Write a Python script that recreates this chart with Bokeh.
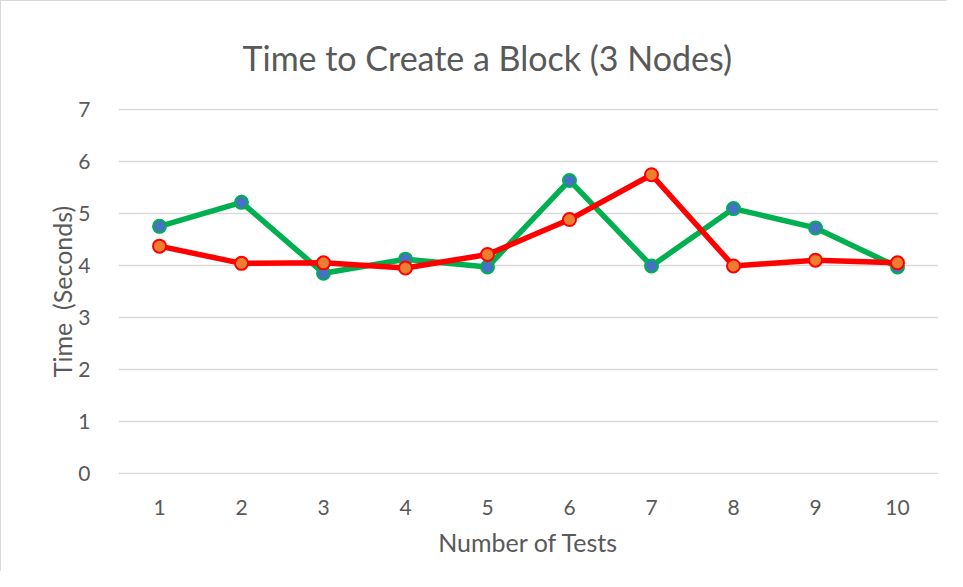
from bokeh.plotting import figure
from bokeh.models import Range1d, FixedTicker, ColumnDataSource
from bokeh.embed import file_html
from bokeh.resources import INLINE

tests = [1, 2, 3, 4, 5, 6, 7, 8, 9, 10]
series_green = [4.75, 5.21, 3.85, 4.12, 3.97, 5.63, 3.99, 5.09, 4.72, 3.97]
series_red = [4.37, 4.04, 4.05, 3.95, 4.21, 4.88, 5.74, 3.99, 4.10, 4.05]
y_ticks = [0, 1, 2, 3, 4, 5, 6, 7]

FONT = "Lato"
TXT = "#595959"

p = figure(width=947, height=571, output_backend="svg", toolbar_location=None,
           x_range=Range1d(0.5, 10.5), y_range=Range1d(-0.01, 7.01),
           min_border_left=117, min_border_right=10, min_border_top=107, min_border_bottom=98,
           title="Time to Create a Block (3 Nodes)")
p.styles = {"border-top": "1px solid #d9d9d9", "border-left": "1px solid #d9d9d9"}

p.title.text_font = FONT
p.title.text_font_size = "34px"
p.title.text_font_style = "normal"
p.title.text_color = TXT
p.title.align = "left"
p.title.offset = 124
p.title.standoff = 61

p.outline_line_color = None
p.xgrid.grid_line_color = None
p.ygrid.grid_line_color = "#d9d9d9"
p.ygrid.grid_line_width = 1.5
p.yaxis.ticker = FixedTicker(ticks=y_ticks)
p.xaxis.ticker = FixedTicker(ticks=tests)

for ax in (p.xaxis[0], p.yaxis[0]):
    ax.axis_line_color = None
    ax.major_tick_line_color = None
    ax.minor_tick_line_color = None
    ax.major_label_text_font = FONT
    ax.major_label_text_font_size = "21px"
    ax.major_label_text_color = TXT
    ax.axis_label_text_font = FONT
    ax.axis_label_text_font_size = "25px"
    ax.axis_label_text_font_style = "normal"
    ax.axis_label_text_color = TXT

p.xaxis.axis_label = "Number of Tests"
p.yaxis.axis_label = "Time\u00a0\u00a0(Seconds)"
p.xaxis.major_label_standoff = 19
p.yaxis.major_label_standoff = 22
p.xaxis.axis_label_standoff = 9
p.yaxis.axis_label_standoff = -2

src = ColumnDataSource(dict(x=tests, g=series_green, r=series_red))
p.line("x", "g", source=src, line_color="#00B050", line_width=5.5)
p.scatter("x", "g", source=src, size=13, fill_color="#4472C4", line_color="#00B050", line_width=2)
p.line("x", "r", source=src, line_color="#FF0000", line_width=5.5)
p.scatter("x", "r", source=src, size=13, fill_color="#ED7D31", line_color="#FF0000", line_width=2)

open("out.html", "w").write(file_html(p, INLINE))
